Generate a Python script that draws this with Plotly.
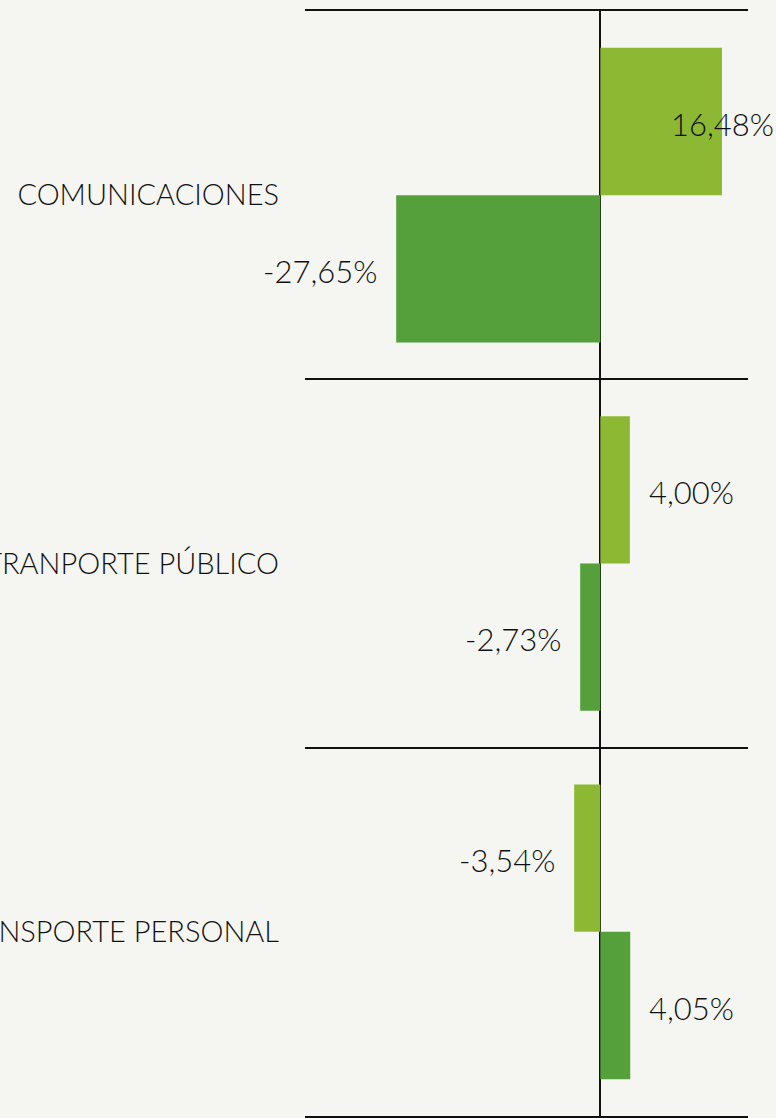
import plotly.graph_objects as go

categories = ["TRANSPORTE PERSONAL", "TRANPORTE PÚBLICO", "COMUNICACIONES"]
serie_oscura = [4.05, -2.73, -27.65]
serie_clara = [-3.54, 4.00, 16.48]
x_min, x_max = -40, 20

BG = "#F5F6F2"
C_DARK = "#55A03B"
C_LIGHT = "#8CB833"
FONT = "Lato"
INK = "#111111"

fig = go.Figure()
fig.add_trace(go.Bar(y=categories, x=serie_oscura, orientation="h",
                     marker=dict(color=C_DARK, line=dict(width=0)), name="oscura"))
fig.add_trace(go.Bar(y=categories, x=serie_clara, orientation="h",
                     marker=dict(color=C_LIGHT, line=dict(width=0)), name="clara"))

def fmt(v):
    return ("%.2f" % v).replace(".", ",") + "%"

for vals, off in [(serie_oscura, -0.2), (serie_clara, 0.2)]:
    for i, v in enumerate(vals):
        if v > 0 and v > 0.7 * x_max:
            anchor, shift = "center", 0
        elif v >= 0:
            anchor, shift = "left", 17
        else:
            anchor, shift = "right", -17
        fig.add_annotation(x=v, y=i + off, xref="x", yref="y", text=fmt(v),
                           showarrow=False, xanchor=anchor, xshift=shift, yshift=-2,
                           font=dict(family=FONT, size=31, color=INK, weight=300))

fig.update_layout(
    barmode="group", bargap=0.2, bargroupgap=0,
    width=776, height=1118,
    margin=dict(l=305, r=28, t=11, b=2, autoexpand=False),
    paper_bgcolor=BG, plot_bgcolor=BG,
    showlegend=False,
    font=dict(family=FONT, color=INK),
)
fig.update_xaxes(range=[x_min, x_max], showgrid=False, showticklabels=False,
                 zeroline=True, zerolinecolor=INK, zerolinewidth=1.5,
                 showline=True, mirror=True, linecolor=INK, linewidth=1.5, ticks="",
                 automargin=False)
fig.update_yaxes(type="category", tickson="boundaries", showgrid=True,
                 gridcolor=INK, gridwidth=1.5, ticks="", automargin=False,
                 tickfont=dict(family=FONT, size=29, color=INK, weight=300),
                 ticklabelstandoff=25, zeroline=False, showline=False)

fig.write_html("out.html", config={"displayModeBar": False},
               post_script="document.body.style.margin='0';document.body.style.background='%s';" % BG)
